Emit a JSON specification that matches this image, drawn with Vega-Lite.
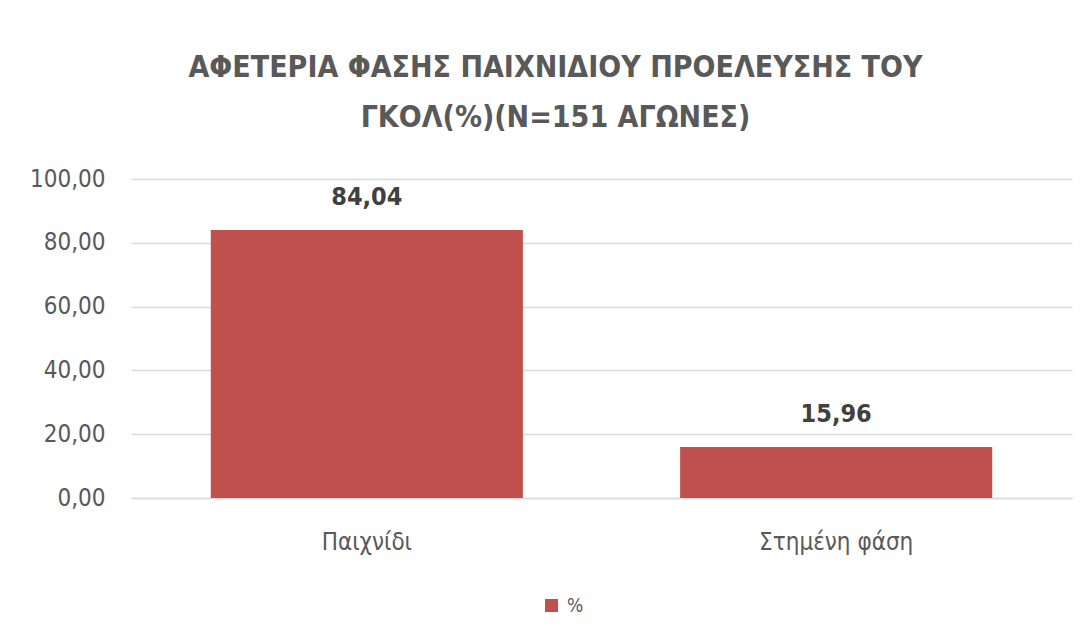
{
  "$schema": "https://vega.github.io/schema/vega-lite/v6.json",
  "width": 941,
  "height": 319,
  "autosize": {"type": "none"},
  "padding": {"left": 131, "top": 179, "right": 14, "bottom": 143},
  "background": "white",
  "config": {
    "locale": {"number": {"decimal": ",", "thousands": ".", "grouping": [3], "currency": ["", " €"]}},
    "font": "DejaVu Sans Condensed",
    "view": {"stroke": null}
  },
  "title": {
    "text": ["ΑΦΕΤΕΡΙΑ ΦΑΣΗΣ ΠΑΙΧΝΙΔΙΟΥ ΠΡΟΕΛΕΥΣΗΣ ΤΟΥ", "ΓΚΟΛ(%)(Ν=151 ΑΓΩΝΕΣ)"],
    "font": "DejaVu Sans Condensed",
    "fontSize": 30,
    "fontWeight": "bold",
    "color": "#595959",
    "lineHeight": 50,
    "anchor": "middle",
    "frame": "group",
    "dx": -46,
    "offset": 34
  },
  "data": {
    "values": [
      {"category": "Παιχνίδι", "value": 84.04, "series": "%"},
      {"category": "Στημένη φάση", "value": 15.96, "series": "%"}
    ]
  },
  "encoding": {
    "x": {
      "field": "category",
      "type": "nominal",
      "sort": null,
      "scale": {"paddingInner": 0.335, "paddingOuter": 0.17},
      "axis": {
        "title": null,
        "labelAngle": 0,
        "labelFontSize": 24,
        "labelColor": "#595959",
        "labelPadding": 32,
        "ticks": false,
        "domain": true,
        "domainColor": "#D9D9D9",
        "domainWidth": 1.5
      }
    },
    "y": {
      "field": "value",
      "type": "quantitative",
      "scale": {"domain": [0, 100]},
      "axis": {
        "title": null,
        "values": [0, 20, 40, 60, 80, 100],
        "format": ".2f",
        "labelFontSize": 24,
        "labelColor": "#595959",
        "labelPadding": 26,
        "ticks": false,
        "domain": false,
        "gridColor": "#D9D9D9",
        "gridWidth": 1.5
      }
    }
  },
  "layer": [
    {
      "mark": {"type": "bar", "color": "#C0504D"},
      "encoding": {
        "color": {
          "field": "series",
          "type": "nominal",
          "scale": {"range": ["#C0504D"]},
          "legend": {
            "title": null,
            "orient": "none",
            "legendX": 411,
            "legendY": 417,
            "symbolType": "square",
            "symbolSize": 170,
            "symbolStrokeWidth": 0,
            "labelFontSize": 19,
            "labelColor": "#595959",
            "labelOffset": 6
          }
        }
      }
    },
    {
      "mark": {"type": "text", "baseline": "alphabetic", "dy": -25, "fontSize": 25, "fontWeight": "bold", "color": "#404040"},
      "encoding": {
        "text": {"field": "value", "type": "quantitative", "format": ".2f"}
      }
    }
  ]
}
